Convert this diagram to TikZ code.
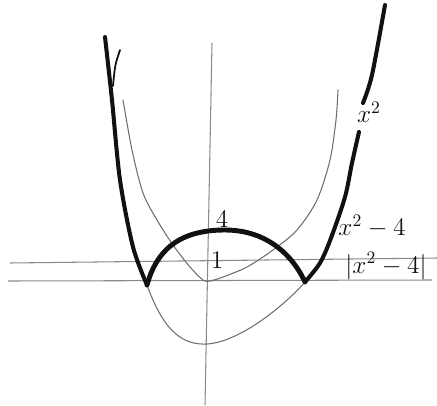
\documentclass[tikz,border=0pt]{standalone}
\usepackage{amsmath}
\usepackage{xcolor}
\usepackage{tikz}
\definecolor{CPenBlack}{HTML}{111111}
\definecolor{CPenGray}{HTML}{6E6E6E}
\definecolor{CAxisGray}{HTML}{8A8A8A}

\begin{document}
\begin{tikzpicture}[x=0.02cm,y=-0.02cm,
  absline/.style={CPenBlack,line width=2.3pt,line cap=round,line join=round},
  penline/.style={CPenGray,line width=0.6pt,line cap=round},
  axisline/.style={CAxisGray,line width=0.6pt},
  lbl/.style={inner sep=0pt,font=\Large,text=CPenBlack}]
  \useasboundingbox (0,0) rectangle (437,406);
  % axes
  \draw[axisline] (212,43) -- (205,405);
  \draw[axisline] (10,263) -- (437,258);
  \draw[axisline] (8,281) -- (432,280);
  \coordinate (rootL) at (147,285);
  \coordinate (rootR) at (305,282);
  % x^2
  \draw[penline] plot[smooth] coordinates {(123,100) (132,150) (143,193) (157,220)
    (173,245) (190,267) (203,280) (210,281) (223,277) (247,267) (273,250)
    (297,230) (317,200) (330,160) (336,120) (338,90)};
  % x^2-4 below the axis
  \draw[penline] (rootL) .. controls (165,335) and (185,345) .. (207,344)
    .. controls (240,342) and (285,305) .. (rootR);
  % |x^2-4|
  \draw[absline] plot[smooth] coordinates {(105,37) (112,100) (120,180) (133,247) (rootL)};
  \draw[absline,line width=2.8pt] (rootL) .. controls (158,245) and (185,230) .. (225,230)
    .. controls (262,230) and (290,250) .. (rootR);
  \draw[absline] plot[smooth] coordinates {(rootR) (320,263) (331,238) (345,197)
    (352,163) (359,132)};
  \draw[absline] plot[smooth] coordinates {(363,103) (372,75) (385,5)};
  \draw[penline,CPenBlack,line width=1pt] (120,50) .. controls (115,65) .. (113,86);
  % labels
  \node[lbl] (one) at (217,260) {$1$};
  \node[lbl] (four) at (222,219) {$4$};
  \node[lbl] (sq) at (369,112) {$x^2$};
  \node[lbl] (sqm) at (372,226) {$x^2-4$};
  \node[lbl] (abs) at (386,266) {$|x^2-4|$};
\end{tikzpicture}
\end{document}
